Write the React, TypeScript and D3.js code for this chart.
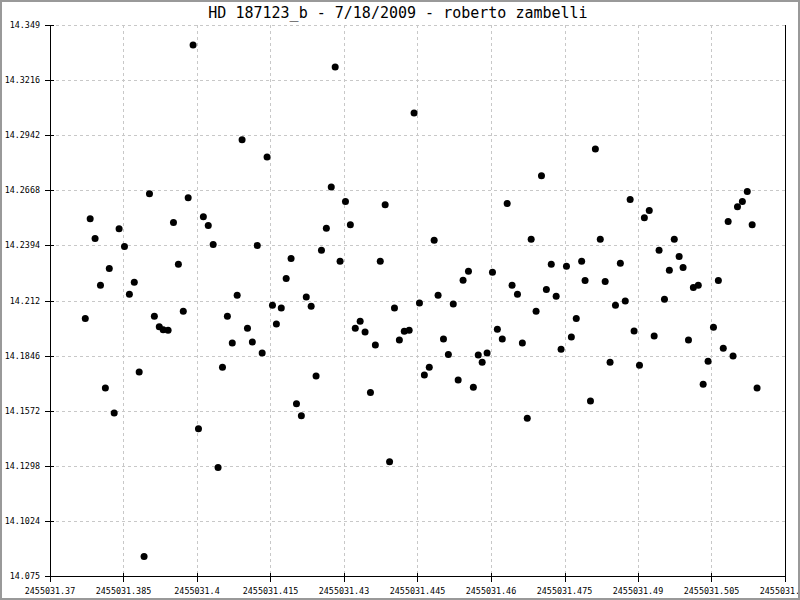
import React from "react";
import * as d3 from "d3";

const TITLE = "HD 187123_b - 7/18/2009 - roberto zambelli";

const xTickValues = [2455031.37, 2455031.385, 2455031.4, 2455031.415, 2455031.43, 2455031.445, 2455031.46, 2455031.475, 2455031.49, 2455031.505, 2455031.52];
const xTickLabels = ["2455031.37", "2455031.385", "2455031.4", "2455031.415", "2455031.43", "2455031.445", "2455031.46", "2455031.475", "2455031.49", "2455031.505", "2455031.52"];
const yTickValues = [14.349, 14.3216, 14.2942, 14.2668, 14.2394, 14.212, 14.1846, 14.1572, 14.1298, 14.1024, 14.075];
const yTickLabels = ["14.349", "14.3216", "14.2942", "14.2668", "14.2394", "14.212", "14.1846", "14.1572", "14.1298", "14.1024", "14.075"];

const jd = [
  2455031.3772, 2455031.3782, 2455031.3792, 2455031.3803, 2455031.3813, 2455031.3821, 2455031.3831, 2455031.3841,
  2455031.3852, 2455031.3862, 2455031.3872, 2455031.3882, 2455031.3892, 2455031.3903, 2455031.3913, 2455031.3923,
  2455031.3931, 2455031.3941, 2455031.3952, 2455031.3962, 2455031.3972, 2455031.3982, 2455031.3992, 2455031.4003,
  2455031.4013, 2455031.4023, 2455031.4033, 2455031.4043, 2455031.4052, 2455031.4062, 2455031.4072, 2455031.4082,
  2455031.4092, 2455031.4103, 2455031.4113, 2455031.4123, 2455031.4133, 2455031.4143, 2455031.4154, 2455031.4162,
  2455031.4172, 2455031.4182, 2455031.4192, 2455031.4203, 2455031.4213, 2455031.4223, 2455031.4233, 2455031.4243,
  2455031.4254, 2455031.4264, 2455031.4274, 2455031.4282, 2455031.4292, 2455031.4303, 2455031.4313, 2455031.4323,
  2455031.4333, 2455031.4343, 2455031.4354, 2455031.4364, 2455031.4374, 2455031.4384, 2455031.4393, 2455031.4403,
  2455031.4413, 2455031.4423, 2455031.4433, 2455031.4443, 2455031.4454, 2455031.4464, 2455031.4474, 2455031.4484,
  2455031.4492, 2455031.4503, 2455031.4513, 2455031.4523, 2455031.4533, 2455031.4543, 2455031.4554, 2455031.4564,
  2455031.4574, 2455031.4582, 2455031.4592, 2455031.4603, 2455031.4613, 2455031.4623, 2455031.4633, 2455031.4643,
  2455031.4654, 2455031.4664, 2455031.4674, 2455031.4682, 2455031.4692, 2455031.4703, 2455031.4713, 2455031.4723,
  2455031.4733, 2455031.4743, 2455031.4754, 2455031.4764, 2455031.4774, 2455031.4785, 2455031.4792, 2455031.4803,
  2455031.4813, 2455031.4823, 2455031.4833, 2455031.4843, 2455031.4854, 2455031.4864, 2455031.4874, 2455031.4884,
  2455031.4892, 2455031.4903, 2455031.4913, 2455031.4923, 2455031.4933, 2455031.4943, 2455031.4954, 2455031.4964,
  2455031.4974, 2455031.4984, 2455031.4992, 2455031.5003, 2455031.5013, 2455031.5023, 2455031.5033, 2455031.5043,
  2455031.5054, 2455031.5064, 2455031.5074, 2455031.5084, 2455031.5094, 2455031.5103, 2455031.5113, 2455031.5123,
  2455031.5133, 2455031.5143,
];

const mag = [
  14.2031, 14.2527, 14.2428, 14.2196, 14.1685, 14.2279, 14.1561, 14.2477,
  14.2389, 14.2151, 14.2211, 14.1764, 14.0847, 14.2651, 14.2042, 14.1989,
  14.1974, 14.1972, 14.2508, 14.2300, 14.2066, 14.2631, 14.3390, 14.1482,
  14.2537, 14.2493, 14.2399, 14.1290, 14.1788, 14.2042, 14.1909, 14.2146,
  14.2919, 14.1982, 14.1914, 14.2394, 14.1859, 14.2834, 14.2097, 14.2003,
  14.2083, 14.2229, 14.2329, 14.1607, 14.1547, 14.2137, 14.2091, 14.1745,
  14.2370, 14.2479, 14.2685, 14.3281, 14.2315, 14.2612, 14.2497, 14.1982,
  14.2017, 14.1963, 14.1662, 14.1899, 14.2315, 14.2596, 14.1318, 14.2083,
  14.1924, 14.1967, 14.1972, 14.3052, 14.2107, 14.1749, 14.1788, 14.2419,
  14.2146, 14.1928, 14.1852, 14.2102, 14.1725, 14.2221, 14.2266, 14.1689,
  14.1849, 14.1813, 14.1859, 14.2260, 14.1977, 14.1928, 14.2602, 14.2196,
  14.2151, 14.1909, 14.1535, 14.2424, 14.2066, 14.2740, 14.2175, 14.2300,
  14.2141, 14.1878, 14.2290, 14.1938, 14.2031, 14.2315, 14.2219, 14.1620,
  14.2873, 14.2424, 14.2215, 14.1813, 14.2097, 14.2305, 14.2117, 14.2622,
  14.1968, 14.1798, 14.2532, 14.2568, 14.1943, 14.2370, 14.2126, 14.2271,
  14.2424, 14.2339, 14.2284, 14.1923, 14.2185, 14.2196, 14.1704, 14.1818,
  14.1987, 14.2219, 14.1883, 14.2513, 14.1844, 14.2586, 14.2612, 14.2662,
  14.2497, 14.1685,
];

const W = 800;
const H = 600;
const left = 50;
const right = 785;
const top = 25;
const bottom = 576;
const FONT = "'DejaVu Sans Mono', 'Liberation Mono', monospace";

export default function App() {
  const x = d3.scaleLinear().domain([xTickValues[0], xTickValues[xTickValues.length - 1]]).range([left, right]);
  const y = d3.scaleLinear().domain([yTickValues[yTickValues.length - 1], yTickValues[0]]).range([bottom, top]);
  const points = jd.map((d, i) => ({ x: d, y: mag[i] }));

  return (
    <svg
      width={W}
      height={H}
      viewBox={`0 0 ${W} ${H}`}
      style={{ position: "absolute", left: 0, top: 0, display: "block", background: "#fff" }}
    >
      <rect x={0} y={0} width={W} height={H} fill="#fff" />
      <text x={398} y={18} textAnchor="middle" fontFamily={FONT} fontSize={15} fill="#000">
        {TITLE}
      </text>
      {/* grid */}
      <g stroke="#c8c8c8" strokeWidth={1} strokeDasharray="3,3" shapeRendering="crispEdges">
        {yTickValues.slice(0, -1).map((v, i) => (
          <line key={"gy" + i} x1={left} x2={right} y1={Math.round(y(v)) + 0.5} y2={Math.round(y(v)) + 0.5} />
        ))}
        {xTickValues.slice(1, -1).map((v, i) => (
          <line key={"gx" + i} x1={Math.round(x(v)) + 0.5} x2={Math.round(x(v)) + 0.5} y1={top} y2={bottom} />
        ))}
      </g>
      {/* axes */}
      <g stroke="#000" strokeWidth={1} shapeRendering="crispEdges">
        <line x1={left + 0.5} x2={left + 0.5} y1={top} y2={bottom + 6} />
        <line x1={right + 0.5} x2={right + 0.5} y1={top} y2={bottom + 6} />
        <line x1={left - 5} x2={right + 1} y1={bottom + 0.5} y2={bottom + 0.5} />
        {yTickValues.map((v, i) => (
          <line key={"ty" + i} x1={left - 5} x2={left + 4} y1={Math.round(y(v)) + 0.5} y2={Math.round(y(v)) + 0.5} />
        ))}
        {xTickValues.map((v, i) => (
          <line key={"tx" + i} x1={Math.round(x(v)) + 0.5} x2={Math.round(x(v)) + 0.5} y1={bottom - 3} y2={bottom + 6} />
        ))}
      </g>
      <g fontFamily={FONT} fontSize={8.4} fill="#000">
        {yTickValues.map((v, i) => (
          <text key={"ly" + i} x={40} y={y(v) + 3} textAnchor="end">
            {yTickLabels[i]}
          </text>
        ))}
        {xTickValues.map((v, i) => (
          <text key={"lx" + i} x={x(v)} y={594} textAnchor="middle">
            {xTickLabels[i]}
          </text>
        ))}
      </g>
      {/* points */}
      <g fill="#000">
        {points.map((p, i) => (
          <circle key={"p" + i} cx={x(p.x)} cy={y(p.y)} r={3.5} />
        ))}
      </g>
      {/* border */}
      <rect x={1} y={1} width={W - 2} height={H - 2} fill="none" stroke="#999" strokeWidth={2} />
    </svg>
  );
}
